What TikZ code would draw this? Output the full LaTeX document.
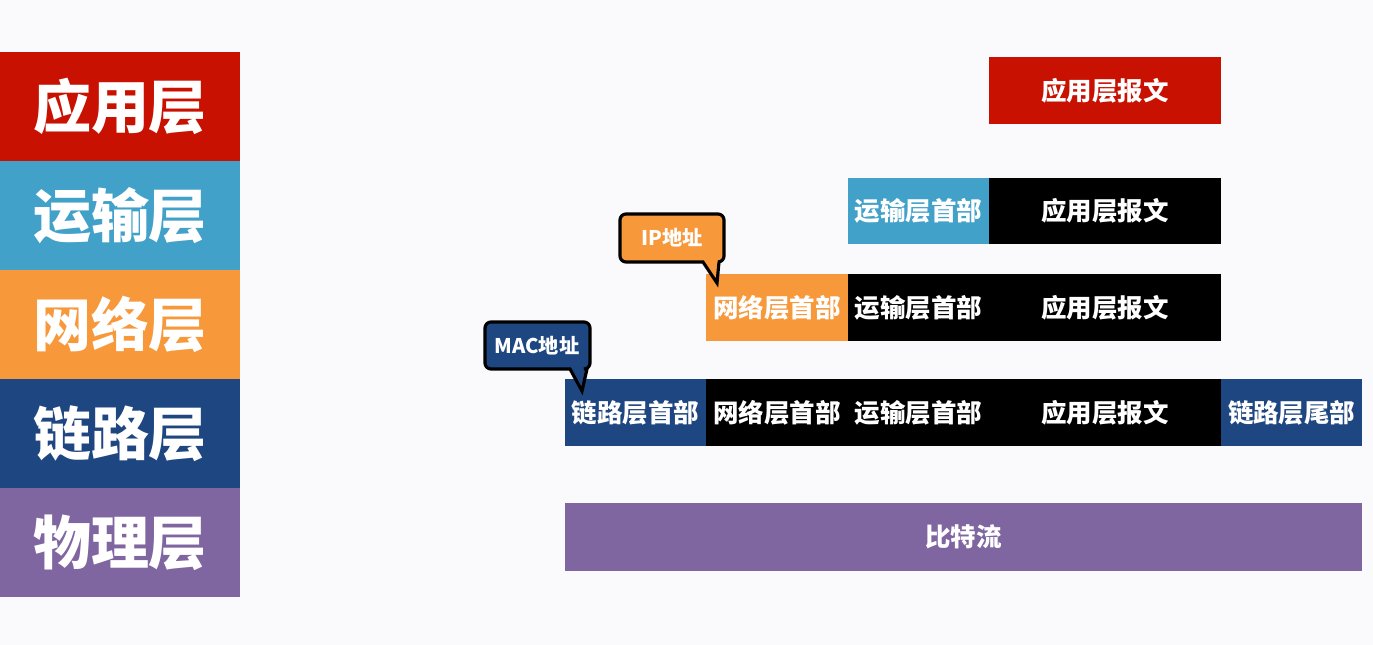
\documentclass[tikz,border=0pt]{standalone}
\usepackage{fontspec}
\setmainfont{Noto Sans CJK SC}
\usetikzlibrary{positioning}
\definecolor{layred}{RGB}{200,17,0}
\definecolor{laycyan}{RGB}{66,161,201}
\definecolor{layorange}{RGB}{247,152,58}
\definecolor{laynavy}{RGB}{30,70,128}
\definecolor{laypurple}{RGB}{128,102,160}
\definecolor{pagebg}{RGB}{250,250,252}
\tikzset{
  layer/.style={fill=#1, text=white, font=\fontsize{33}{33}\selectfont\bfseries,
    minimum width=4.8cm, minimum height=2.18cm, inner sep=0pt, outer sep=0pt},
  hdr/.style={fill=#1, text=white, font=\fontsize{14.5}{15}\selectfont\bfseries,
    minimum width=2.83cm, minimum height=1.34cm, inner sep=0pt, outer sep=0pt},
  msg/.style={hdr=black, minimum width=4.64cm},
  bubble/.style={draw=black, line width=1.8pt, fill=#1},
  note/.style={text=white, font=\fontsize{11.5}{12}\selectfont\bfseries, inner sep=0pt}
}
\begin{document}
\begin{tikzpicture}[x=0.02cm, y=-0.02cm]
    \fill[pagebg] (0,0) rectangle (1373,645);
    % layer names
    \node[layer=layred] (app) at (120,106.5) {应用层};
    \node[layer=laycyan] (tra) at (120,215.5) {运输层};
    \node[layer=layorange] (net) at (120,324.5) {网络层};
    \node[layer=laynavy] (lnk) at (120,433.5) {链路层};
    \node[layer=laypurple] (phy) at (120,542.5) {物理层};
    % encapsulation
    \node[msg, fill=layred, anchor=west] (app1) at (989,90.5) {应用层报文};
    \node[msg, anchor=west] (app2) at (989,211) {应用层报文};
    \node[hdr=laycyan, left=0pt of app2] (tra2) {运输层首部};
    \node[msg, anchor=west] (app3) at (989,307.5) {应用层报文};
    \node[hdr=black, left=0pt of app3] (tra3) {运输层首部};
    \node[hdr=layorange, left=0pt of tra3] (net3) {网络层首部};
    \node[msg, anchor=west] (app4) at (989,412.5) {应用层报文};
    \node[hdr=black, left=0pt of app4] (tra4) {运输层首部};
    \node[hdr=black, left=0pt of tra4] (net4) {网络层首部};
    \node[hdr=laynavy, left=0pt of net4] (lnk4) {链路层首部};
    \node[hdr=laynavy, right=0pt of app4] (tail4) {链路层尾部};
    \node[hdr=laypurple, minimum width=15.94cm, minimum height=1.36cm, anchor=west] (bits) at (565,537) {比特流};
    % address notes
    \draw[bubble=layorange] (620,238) [rounded corners=0.12cm] -- (620,214) -- (724,214) -- (724,262)
        [sharp corners] -- (719,262) -- (717,283) -- (703,262) [rounded corners=0.12cm] -- (620,262) -- cycle;
    \node[note] (ipnote) at (672,238) {IP地址};
    \draw[bubble=laynavy] (485,346) [rounded corners=0.12cm] -- (485,322) -- (590,322) -- (590,369)
        [sharp corners] -- (587,369) -- (582,391) -- (570,369) [rounded corners=0.12cm] -- (485,369) -- cycle;
    \node[note] (macnote) at (537,346) {MAC地址};
\end{tikzpicture}
\end{document}
